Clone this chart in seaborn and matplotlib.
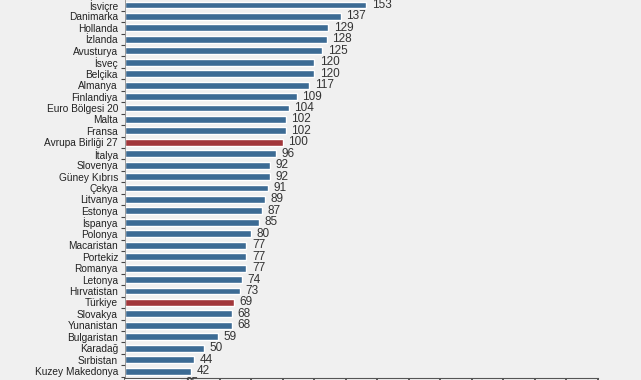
import matplotlib
matplotlib.use("Agg")
import matplotlib.pyplot as plt
from matplotlib import font_manager
import seaborn as sns
import pandas as pd
import numpy as np

countries = ["İsviçre", "Danimarka", "Hollanda", "İzlanda", "Avusturya", "İsveç",
             "Belçika", "Almanya", "Finlandiya", "Euro Bölgesi 20", "Malta", "Fransa",
             "Avrupa Birliği 27", "İtalya", "Slovenya", "Güney Kıbrıs", "Çekya",
             "Litvanya", "Estonya", "İspanya", "Polonya", "Macaristan", "Portekiz",
             "Romanya", "Letonya", "Hırvatistan", "Türkiye", "Slovakya", "Yunanistan",
             "Bulgaristan", "Karadağ", "Sırbistan", "Kuzey Makedonya", "Bosna-Hersek"]
values = [153, 137, 129, 128, 125, 120, 120, 117, 109, 104, 102, 102, 100, 96, 92, 92,
          91, 89, 87, 85, 80, 77, 77, 77, 74, 73, 69, 68, 68, 59, 50, 44, 42, 35]
highlight = ["Avrupa Birliği 27", "Türkiye"]

BLUE = "#2d6ca3"
RED = "#b3242a"
BG = "#f0f0f0"

df = pd.DataFrame({"country": countries, "value": values})
df["grp"] = np.where(df["country"].isin(highlight), "hl", "base")

sns.set_theme(style="white")
plt.rcParams["font.family"] = ["Liberation Sans", "DejaVu Sans"]

names = {f.name for f in font_manager.fontManager.ttflist}
if "Liberation Sans Narrow" in names:
    LABEL_FONT = ["Liberation Sans Narrow", "DejaVu Sans"]
    LABEL_SIZE = 9
else:
    LABEL_FONT = ["Liberation Sans", "DejaVu Sans"]
    LABEL_SIZE = 7.3

W, H = 641, 380
fig = plt.figure(figsize=(W / 100, H / 100), dpi=100, facecolor=BG)

x0, x1 = 125, 598
ybot = 378
ax = fig.add_axes([x0 / W, (H - ybot) / H, (x1 - x0) / W, ybot / H])
ax.set_facecolor(BG)

sns.barplot(data=df, y="country", x="value", hue="grp",
            palette={"base": BLUE, "hl": RED}, orient="h", width=0.6,
            legend=False, ax=ax, dodge=False)

for p in ax.patches:
    p.set_clip_on(False)

for i, v in enumerate(values):
    ax.text(v + 3.5, i, f"{v}", va="center", ha="left", fontsize=8.5,
            color="#333333", clip_on=False, family=LABEL_FONT)

ax.set_xlabel("")
ax.set_ylabel("")
ax.set_xticks(np.arange(0, 301, 20))
ax.set_xticklabels([])
ax.tick_params(axis="x", direction="out", length=3, color="#444444", bottom=True)
ax.set_yticks(np.arange(len(countries)))
ax.set_yticklabels(countries, family=LABEL_FONT, fontsize=LABEL_SIZE,
                   color="#222222")
ax.tick_params(axis="y", which="major", length=0, pad=5)
ax.set_yticks(np.arange(len(countries)) + 0.5, minor=True)
ax.tick_params(axis="y", which="minor", direction="out", length=3, width=0.8,
               color="#444444", left=True)

row0, step = 5.0, 11.44
ax.set_ylim((ybot - row0) / step, -row0 / step)
ax.set_xlim(0, 300)

for s in ["top", "right"]:
    ax.spines[s].set_visible(False)
ax.spines["left"].set_color("#888888")
ax.spines["left"].set_linewidth(0.6)
ax.spines["bottom"].set_color("#555555")
ax.spines["bottom"].set_linewidth(0.8)

fig.savefig("out.png", dpi=100, facecolor=BG)
